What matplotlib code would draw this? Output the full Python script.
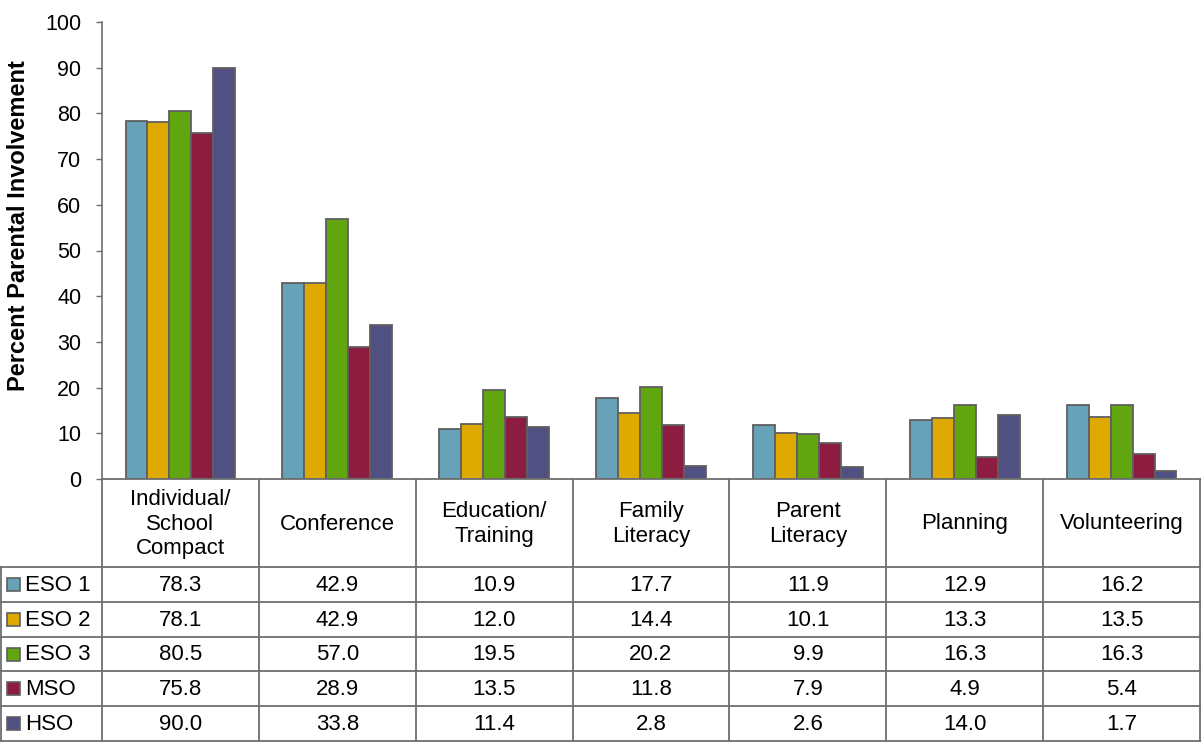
import numpy as np
import matplotlib
matplotlib.use('Agg')
import matplotlib.pyplot as plt
from matplotlib.patches import Rectangle

plt.rcParams['font.family'] = ['Liberation Sans', 'DejaVu Sans']

# 数据
categories = ['Individual/\nSchool\nCompact', 'Conference', 'Education/\nTraining',
              'Family\nLiteracy', 'Parent\nLiteracy', 'Planning', 'Volunteering']
series_names = ['ESO 1', 'ESO 2', 'ESO 3', 'MSO', 'HSO']
eso1 = [78.3, 42.9, 10.9, 17.7, 11.9, 12.9, 16.2]
eso2 = [78.1, 42.9, 12.0, 14.4, 10.1, 13.3, 13.5]
eso3 = [80.5, 57.0, 19.5, 20.2, 9.9, 16.3, 16.3]
mso = [75.8, 28.9, 13.5, 11.8, 7.9, 4.9, 5.4]
hso = [90.0, 33.8, 11.4, 2.8, 2.6, 14.0, 1.7]
yticks = list(range(0, 101, 10))

series = [eso1, eso2, eso3, mso, hso]
colors = ['#68A2B9', '#DEA900', '#62A60F', '#8C1C40', '#505082']
edge = '#5f5f5f'
line_c = '#6e6e6e'
fs = 16

W, H = 1201, 742
fig = plt.figure(figsize=(W / 100, H / 100), dpi=100)

# 图区像素位置
left, right, top, zero_y = 102, 1200, 22, 479
ax = fig.add_axes([left / W, 1 - zero_y / H, (right - left) / W, (zero_y - top) / H])

n = len(categories)
bw = 0.14
x = np.arange(n)
for i, vals in enumerate(series):
    ax.bar(x + (i - 2) * bw, vals, width=bw, color=colors[i],
           edgecolor=edge, linewidth=1.3, zorder=3)

ax.set_xlim(-0.5, n - 0.5)
ax.set_ylim(0, 100)
ax.set_yticks(yticks)
ax.set_xticks([])
ax.tick_params(axis='y', length=4, width=1, color=line_c, labelsize=15.5, pad=11)
for s in ['top', 'right', 'bottom']:
    ax.spines[s].set_visible(False)
ax.spines['left'].set_color(line_c)
ax.spines['left'].set_linewidth(1.2)

# 数据表（像素坐标叠加层）
tb = fig.add_axes([0, 0, 1, 1])
tb.set_xlim(0, W)
tb.set_ylim(H, 0)
tb.axis('off')

tb.text(19, 226, 'Percent Parental Involvement', rotation=90, ha='center', va='center',
        fontsize=17, fontweight='bold')

col_w = (right - left) / n
col_x = [left + k * col_w for k in range(n + 1)]
header_bottom = 567
row_h = (H - 1 - header_bottom) / len(series)
row_y = [header_bottom + k * row_h for k in range(len(series) + 1)]

lw = 1.3
# 表头
tb.plot([left, right], [zero_y, zero_y], color=line_c, lw=lw)
for cx in col_x:
    tb.plot([cx, cx], [zero_y, H - 1], color=line_c, lw=lw)
tb.plot([0.8, 0.8], [header_bottom, H - 1], color=line_c, lw=lw)
for ry in row_y:
    tb.plot([0, right], [ry, ry], color=line_c, lw=lw)

for k, cat in enumerate(categories):
    tb.text((col_x[k] + col_x[k + 1]) / 2, (zero_y + header_bottom) / 2 + 1, cat,
            ha='center', va='center', fontsize=fs, linespacing=1.22)

for i, vals in enumerate(series):
    cy = (row_y[i] + row_y[i + 1]) / 2
    tb.add_patch(Rectangle((7, cy - 6.5), 13, 13, facecolor=colors[i],
                           edgecolor=edge, linewidth=1.2))
    tb.text(25, cy + 1, series_names[i], ha='left', va='center', fontsize=fs)
    for k, v in enumerate(vals):
        tb.text((col_x[k] + col_x[k + 1]) / 2, cy + 1, '%.1f' % v,
                ha='center', va='center', fontsize=fs)

fig.savefig('out.png', dpi=100)
